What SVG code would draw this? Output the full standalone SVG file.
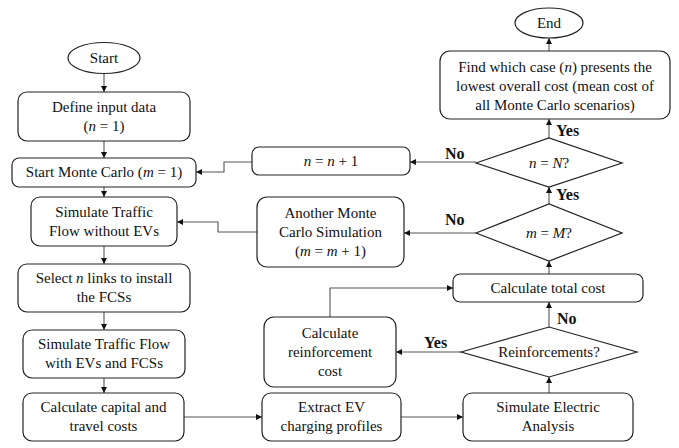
<svg xmlns="http://www.w3.org/2000/svg" width="679" height="448" viewBox="0 0 679 448">
<style>
.b{fill:#fff;stroke:#222;stroke-width:1.2}
.t{font-family:"Liberation Serif","Times New Roman",serif;font-size:15px;fill:#111;text-anchor:middle}
.i{font-style:italic}
.l{font-family:"Liberation Serif","Times New Roman",serif;font-size:16px;font-weight:bold;fill:#111}
.c{fill:none;stroke:#555;stroke-width:1.1;marker-end:url(#a)}
</style>
<defs>
<marker id="a" viewBox="0 0 10 10" refX="10" refY="5" markerWidth="6" markerHeight="6" orient="auto" markerUnits="userSpaceOnUse">
<path d="M0,0 L10,5 L0,10 z" fill="#111"/>
</marker>
</defs>
<rect width="679" height="448" fill="#fff"/>
<g id="connectors">
<path class="c" d="M104,74 V92"/>
<path class="c" d="M104,141 V158"/>
<path class="c" d="M104,187 V197"/>
<path class="c" d="M104,246 V264"/>
<path class="c" d="M104,312 V330"/>
<path class="c" d="M104,378 V393"/>
<path class="c" d="M184,417 H262"/>
<path class="c" d="M401,417 H463"/>
<path class="c" d="M549,393 V377"/>
<path class="c" d="M461,352 H396"/>
<path class="c" d="M549,327 V302"/>
<path class="c" d="M330,317 V288 H453"/>
<path class="c" d="M549,274 V261"/>
<path class="c" d="M549,204 V187"/>
<path class="c" d="M476,233 H404"/>
<path class="c" d="M257,232 H218 V222 H177"/>
<path class="c" d="M476,162 H410"/>
<path class="c" d="M252,162 H224 V172 H196"/>
<path class="c" d="M549,138 V119"/>
<path class="c" d="M549,51 V38"/>
<text class="l" x="445" y="159">No</text>
<text class="l" x="445" y="225">No</text>
<text class="l" x="556" y="136">Yes</text>
<text class="l" x="556" y="200">Yes</text>
<text class="l" x="557" y="324">No</text>
<text class="l" x="424" y="348">Yes</text>
</g>
<g id="start"><ellipse class="b" cx="104" cy="58" rx="36" ry="15.5"/><text class="t" x="104" y="63">Start</text></g>
<g id="define"><rect class="b" x="18" y="92" width="172" height="49" rx="9"/><text class="t" x="104" y="112">Define input data</text><text class="t" x="104" y="131">(<tspan class="i">n</tspan> = 1)</text></g>
<g id="startmc"><rect class="b" x="12" y="158" width="184" height="29" rx="7"/><text class="t" x="104" y="177">Start Monte Carlo (<tspan class="i">m</tspan> = 1)</text></g>
<g id="simtraffic"><rect class="b" x="31" y="197" width="146" height="49" rx="9"/><text class="t" x="104" y="217">Simulate Traffic</text><text class="t" x="104" y="236">Flow without EVs</text></g>
<g id="select"><rect class="b" x="18" y="264" width="172" height="48" rx="9"/><text class="t" x="104" y="283">Select <tspan class="i">n</tspan> links to install</text><text class="t" x="104" y="302">the FCSs</text></g>
<g id="simev"><rect class="b" x="23" y="330" width="162" height="48" rx="9"/><text class="t" x="104" y="349">Simulate Traffic Flow</text><text class="t" x="104" y="368">with EVs and FCSs</text></g>
<g id="capital"><rect class="b" x="23" y="393" width="161" height="48" rx="9"/><text class="t" x="103.5" y="412">Calculate capital and</text><text class="t" x="103.5" y="431">travel costs</text></g>
<g id="extract"><rect class="b" x="262" y="393" width="139" height="48" rx="9"/><text class="t" x="331.5" y="412">Extract EV</text><text class="t" x="331.5" y="431">charging profiles</text></g>
<g id="electric"><rect class="b" x="463" y="393" width="170" height="48" rx="9"/><text class="t" x="548" y="412">Simulate Electric</text><text class="t" x="548" y="431">Analysis</text></g>
<g id="reinforcements"><polygon class="b" points="461,352 549,327 637,352 549,377"/><text class="t" x="549" y="357">Reinforcements?</text></g>
<g id="reinfcost"><rect class="b" x="264" y="317" width="132" height="70" rx="10"/><text class="t" x="330" y="338">Calculate</text><text class="t" x="330" y="357">reinforcement</text><text class="t" x="330" y="376">cost</text></g>
<g id="totalcost"><rect class="b" x="453" y="274" width="190" height="28" rx="7"/><text class="t" x="548" y="293">Calculate total cost</text></g>
<g id="mM"><polygon class="b" points="476,233 549,204 622,233 549,261"/><text class="t" x="549" y="238"><tspan class="i">m</tspan> = <tspan class="i">M</tspan>?</text></g>
<g id="another"><rect class="b" x="257" y="197" width="147" height="70" rx="10"/><text class="t" x="330.5" y="218">Another Monte</text><text class="t" x="330.5" y="237">Carlo Simulation</text><text class="t" x="330.5" y="256">(<tspan class="i">m</tspan> = <tspan class="i">m</tspan> + 1)</text></g>
<g id="nN"><polygon class="b" points="476,163 549,138 622,163 549,187"/><text class="t" x="549" y="168"><tspan class="i">n</tspan> = <tspan class="i">N</tspan>?</text></g>
<g id="ninc"><rect class="b" x="252" y="147" width="158" height="28" rx="7"/><text class="t" x="331" y="166"><tspan class="i">n</tspan> = <tspan class="i">n</tspan> + 1</text></g>
<g id="find"><rect class="b" x="440" y="51" width="230" height="68" rx="10"/><text class="t" x="555" y="72">Find which case (<tspan class="i">n</tspan>) presents the</text><text class="t" x="555" y="91">lowest overall cost (mean cost of</text><text class="t" x="555" y="110">all Monte Carlo scenarios)</text></g>
<g id="end"><ellipse class="b" cx="549" cy="23" rx="34" ry="15"/><text class="t" x="549" y="28">End</text></g>
</svg>
